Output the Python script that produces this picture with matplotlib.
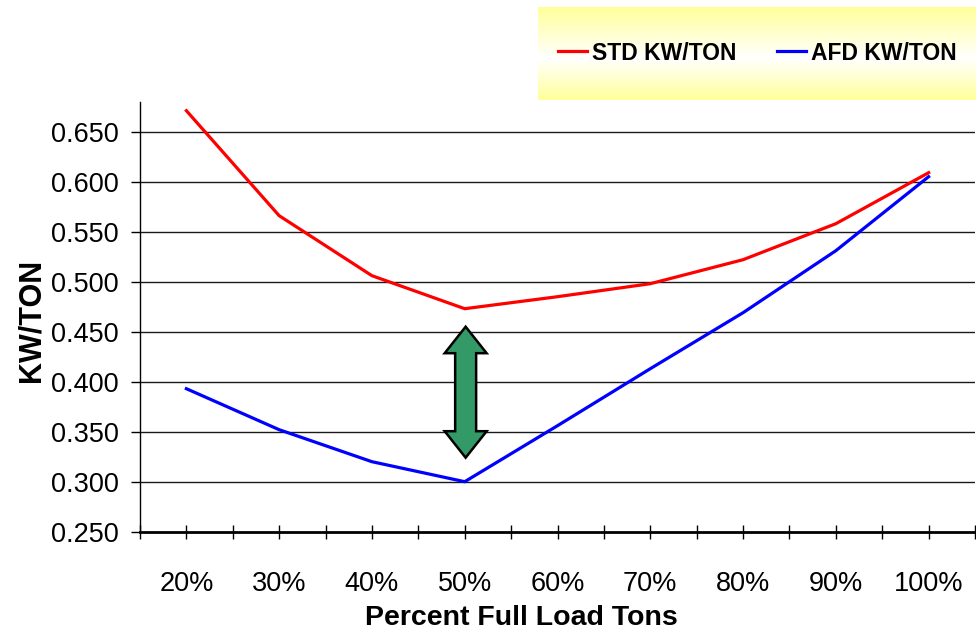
import numpy as np
import matplotlib
matplotlib.use("Agg")
import matplotlib.pyplot as plt
from matplotlib.patches import Polygon
from matplotlib.lines import Line2D
from matplotlib.colors import LinearSegmentedColormap

# ---- data -------------------------------------------------------------
load_labels = ["20%", "30%", "40%", "50%", "60%", "70%", "80%", "90%", "100%"]
std_kw_ton = [0.671, 0.566, 0.506, 0.473, 0.485, 0.498, 0.522, 0.558, 0.609]
afd_kw_ton = [0.393, 0.352, 0.320, 0.300, 0.356, 0.413, 0.469, 0.531, 0.605]
y_ticks = [0.250, 0.300, 0.350, 0.400, 0.450, 0.500, 0.550, 0.600, 0.650]

plt.rcParams["font.family"] = ["Liberation Sans", "DejaVu Sans"]

fig = plt.figure(figsize=(9.76, 6.37), dpi=100)
fig.patch.set_facecolor("white")

W, H = 976, 637
ax = fig.add_axes([140 / W, (H - 531.7) / H, 835 / W, 430 / H])

x = np.arange(len(load_labels))
ax.plot(x, std_kw_ton, color="#ff0000", lw=2.3, solid_joinstyle="miter", zorder=3)
ax.plot(x, afd_kw_ton, color="#0000ff", lw=2.3, solid_joinstyle="miter", zorder=3)

ax.set_xlim(-0.5, len(load_labels) - 0.5)
ax.set_ylim(0.25, 0.68)

# horizontal gridlines
for v in y_ticks[1:]:
    ax.axhline(v, color="#1a1a1a", lw=1.0, zorder=1)

# y axis
ax.set_yticks(y_ticks)
ax.set_yticklabels([f"{v:.3f}" for v in y_ticks])
ax.tick_params(axis="y", direction="out", length=6.5, width=1.0, pad=9,
               labelsize=19.5, color="black")

# x axis: tick marks every half category, labels at category centres
ax.xaxis.remove_overlapping_locs = False
ax.set_xticks(np.arange(-0.5, len(load_labels), 0.5))
ax.set_xticklabels([])
ax.tick_params(axis="x", which="major", direction="inout", length=10,
               width=1.0, color="black")
ax.set_xticks(x, minor=True)
ax.set_xticklabels(load_labels, minor=True)
ax.tick_params(axis="x", which="minor", length=0, pad=28, labelsize=19.5)

for s in ("top", "right"):
    ax.spines[s].set_visible(False)
ax.spines["left"].set_linewidth(1.0)
ax.spines["bottom"].set_linewidth(2.0)
ax.spines["bottom"].set_zorder(4)

ax.set_xlabel("Percent Full Load Tons", fontsize=20.5, fontweight="bold")
ax.xaxis.set_label_coords((521.5 - 140) / 835, (531.7 - 618) / 430)
ax.xaxis.label.set_va("center")
ax.set_ylabel("KW/TON", fontsize=22, fontweight="bold")
ax.yaxis.set_label_coords((32 - 140) / 835, (531.7 - 320) / 430)
ax.yaxis.label.set_va("center")

# double-headed block arrow between the two curves at 50% load
i = load_labels.index("50%")
y_top = std_kw_ton[i] - 0.018
y_bot = afd_kw_ton[i] + 0.024
head_hw, shaft_hw, head_len = 0.226, 0.113, 0.0265
cx = x[i] + 0.01
verts = [
    (cx, y_top),
    (cx + head_hw, y_top - head_len),
    (cx + shaft_hw, y_top - head_len),
    (cx + shaft_hw, y_bot + head_len),
    (cx + head_hw, y_bot + head_len),
    (cx, y_bot),
    (cx - head_hw, y_bot + head_len),
    (cx - shaft_hw, y_bot + head_len),
    (cx - shaft_hw, y_top - head_len),
    (cx - head_hw, y_top - head_len),
]
ax.add_patch(Polygon(verts, closed=True, facecolor="#339966",
                     edgecolor="black", lw=1.8, joinstyle="miter", zorder=5))

# legend panel with a yellow-white-yellow vertical gradient
lax = fig.add_axes([538 / W, (H - 100) / H, 438 / W, 93 / H])
cmap = LinearSegmentedColormap.from_list(
    "panel", [(0.0, (1, 1, 0.6)), (0.55, (1, 1, 1)), (1.0, (1, 1, 0.6))])
grad = np.linspace(0, 1, 256).reshape(-1, 1)
lax.imshow(grad, aspect="auto", cmap=cmap, extent=(0, 1, 0, 1), origin="upper")
lax.set_axis_off()

handles = [Line2D([], [], color="#ff0000", lw=2.3),
           Line2D([], [], color="#0000ff", lw=2.3)]
fig.legend(handles, ["STD KW/TON", "AFD KW/TON"], ncol=2, frameon=False,
           loc="center left", bbox_to_anchor=(558 / W, 1 - 53 / H),
           borderpad=0, borderaxespad=0, handlelength=1.25,
           handletextpad=0.25, columnspacing=1.75,
           prop={"size": 16.5, "weight": "bold"})

fig.savefig("out.png", dpi=100, facecolor="white")
